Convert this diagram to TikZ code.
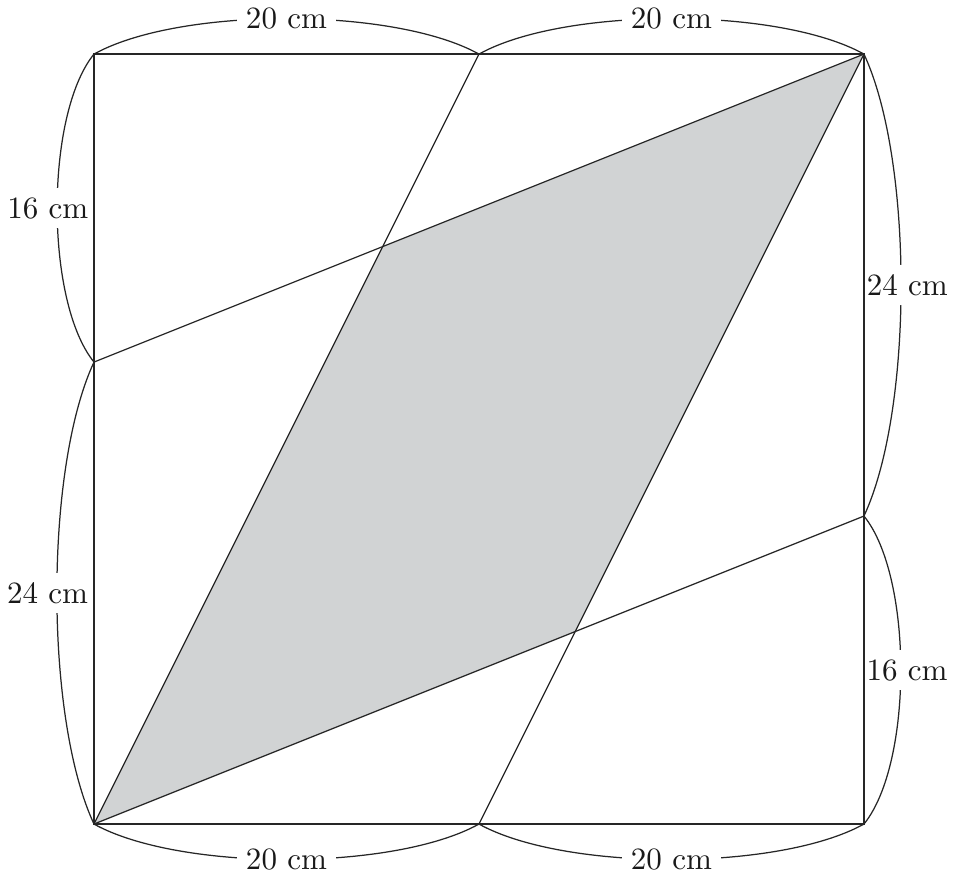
\documentclass[tikz,border=0pt]{standalone}
\usepackage{tikz}
\definecolor{shadegray}{RGB}{209,211,212}

\begin{document}
\begin{tikzpicture}[
      x=2.18mm, y=2.18mm,
      side/.style  = {draw=black!85, line width=0.75pt},
      cut/.style   = {draw=black!85, line width=0.4pt},
      brace/.style = {draw=black!85, line width=0.4pt, looseness=0.65},
      lbl/.style   = {fill=white, inner sep=3pt, text=black!90},
      vlbl/.style  = {lbl, inner xsep=0.5pt}
    ]
      \useasboundingbox (-4.883,-2.857) rectangle (44.73,42.81);

      % ===================== Corners and marks =====================
      \coordinate (A) at (0,0);
      \coordinate (B) at (40,0);
      \coordinate (C) at (40,40);
      \coordinate (D) at (0,40);
      \coordinate (T) at (20,40);
      \coordinate (M) at (20,0);
      \coordinate (L) at (0,24);
      \coordinate (R) at (40,16);
      \coordinate (P) at (intersection of A--T and L--C);
      \coordinate (Q) at (intersection of M--C and A--R);

      % ===================== Braces =====================
      \draw[brace] (D) to[out=29, in=151] node[lbl] {20 cm} (T);
      \draw[brace] (T) to[out=29, in=151] node[lbl] {20 cm} (C);
      \draw[brace] (A) to[out=-29, in=-151] node[lbl] {20 cm} (M);
      \draw[brace] (M) to[out=-29, in=-151] node[lbl] {20 cm} (B);

      \draw[brace] (D) to[out=231, in=129] node[vlbl, xshift=-3pt] {16 cm} (L);
      \draw[brace] (L) to[out=245, in=115] node[vlbl, xshift=-3pt] {24 cm} (A);
      \draw[brace] (C) to[out=295, in=65] node[vlbl, xshift=2pt] {24 cm} (R);
      \draw[brace] (R) to[out=309, in=51] node[vlbl, xshift=2pt] {16 cm} (B);

      % ===================== Shaded part =====================
      \fill[shadegray] (A) -- (P) -- (C) -- (Q) -- cycle;

      % ===================== Cut lines =====================
      \draw[cut] (A) -- (T);
      \draw[cut] (M) -- (C);
      \draw[cut] (L) -- (C);
      \draw[cut] (A) -- (R);

      % Square
      \draw[side] (A) -- (B) -- (C) -- (D) -- cycle;

    \end{tikzpicture}
\end{document}
